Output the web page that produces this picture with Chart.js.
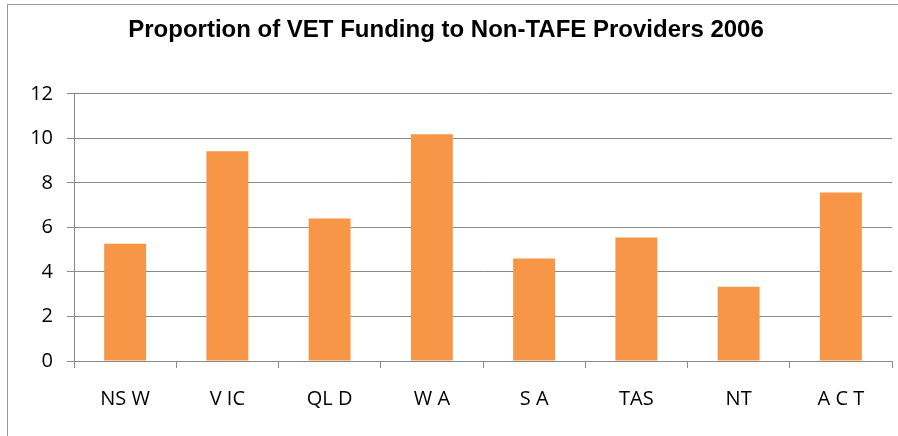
<!DOCTYPE html>
<html>
<head>
<meta charset="utf-8">
<script src="https://cdn.jsdelivr.net/npm/chart.js@4/dist/chart.umd.min.js"></script>
<style>
  html, body { margin: 0; padding: 0; background: #fff; }
  #wrap { position: relative; width: 898px; height: 436px; }
  #frame { position: absolute; left: 7px; top: 4px; right: -2px; bottom: -2px; border-top: 1px solid #9a9a9a; border-left: 1px solid #9a9a9a; }
</style>
</head>
<body>
<div id="wrap">
  <div id="frame"></div>
  <canvas id="chart" width="898" height="436"></canvas>
</div>
<script>
// ---- data ----
const states = ['NS W', 'V IC', 'QL D', 'W A', 'S A', 'TAS', 'NT', 'A C T'];
const proportion = [5.27, 9.42, 6.4, 10.18, 4.6, 5.55, 3.33, 7.57];
const yTicks = [0, 2, 4, 6, 8, 10, 12];

const titleText = 'Proportion of VET Funding to Non-TAFE Providers 2006';

const ctx = document.getElementById('chart').getContext('2d');
new Chart(ctx, {
    type: 'bar',
    data: {
        labels: states,
        datasets: [{
            label: 'Proportion',
            data: proportion,
            backgroundColor: '#F79646',
            borderWidth: 0,
            categoryPercentage: 1,
            barPercentage: 0.41
        }]
    },
    options: {
        responsive: false,
        animation: false,
        layout: { padding: { left: 0, right: 6, top: 0, bottom: 0 } },
        plugins: {
            legend: { display: false },
            tooltip: { enabled: false },
            title: {
                display: true,
                text: titleText,
                color: '#000',
                font: { family: 'Liberation Sans', size: 24, weight: 'bold', lineHeight: 1.2 },
                padding: { top: 16, bottom: 49 }
            }
        },
        scales: {
            x: {
                grid: { drawOnChartArea: false, drawTicks: true, tickLength: 7, color: '#898989' },
                border: { color: '#898989' },
                ticks: { color: '#000', font: { family: 'Open Sans', size: 20 }, padding: 19 },
                afterFit: (s) => { s.height = 75; }
            },
            y: {
                min: 0,
                max: 12,
                afterBuildTicks: (s) => { s.ticks = yTicks.map(v => ({ value: v })); },
                grid: { color: '#898989', tickLength: 7 },
                border: { color: '#898989' },
                ticks: { color: '#000', font: { family: 'Open Sans', size: 20 }, padding: 14 },
                afterFit: (s) => { s.width = 74; }
            }
        }
    }
});
</script>
</body>
</html>
